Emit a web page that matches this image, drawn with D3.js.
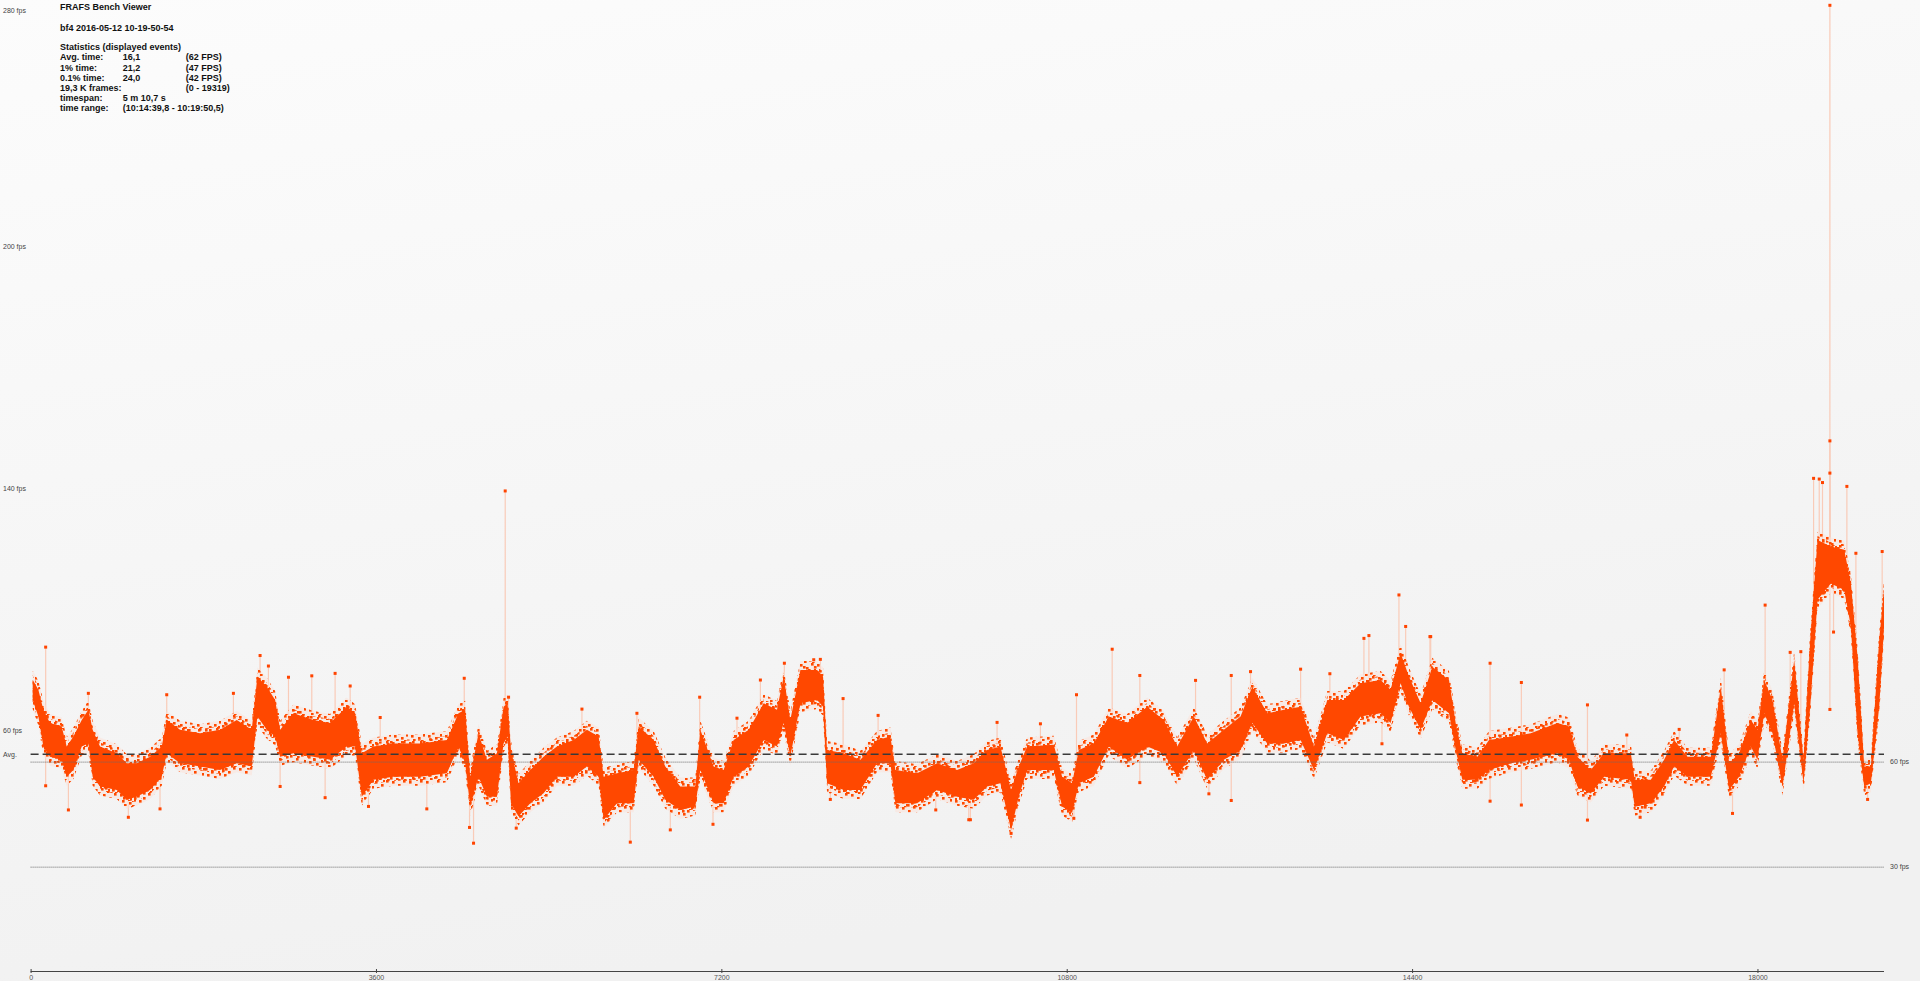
<!DOCTYPE html>
<html><head><meta charset="utf-8">
<script src="https://cdn.jsdelivr.net/npm/d3@7"></script>
<style>html,body{margin:0;padding:0;overflow:hidden;background:#f6f6f6}</style>
</head><body><svg id="c" width="1920" height="981"></svg>
<script>
// ---- data (frame index, fps) ----
const frames = [22,81,133,202,324,376,446,533,602,647,724,898,1002,1106,1245,1367,1419,1558,1766,1975,2149,2305,2364,2462,2549,2601,2740,2948,3122,3296,3383,3452,3574,3783,4061,4339,4460,4530,4582,4669,4756,4861,
4930,4972,5007,5086,5208,5347,5486,5660,5799,5921,5973,6112,6286,6338,6494,6616,6772,6929,6981,7120,7224,7328,7485,7641,7780,7850,7919,8024,8198,8260,8302,8475,8650,8823,8962,9014,9240,9449,9657,
9831,9970,10109,10220,10300,10387,10665,10752,10856,10926,11082,11239,11430,11639,11812,11951,12125,12264,12438,12612,12734,12890,13064,13238,13377,13516,13689,13863,14072,14176,14280,14367,14489,14611,
14698,14785,14855,14924,15081,15202,15428,15637,15915,16037,16123,16262,16402,16680,16721,16888,17027,17131,17271,17514,17618,17705,17809,17931,18000,18070,18157,18261,18383,18480,18550,18626,18765,18904,18974,19043,19113,19182,19269,19319];
const bandLo = [77.6,72.9,64.3,61.4,60.5,55.7,57.6,64.3,65.2,55.7,52.9,51.9,49.1,50.0,51.9,55.7,62.4,59.5,58.6,57.6,59.5,58.6,72.9,69.1,67.2,61.4,62.4,61.4,60.5,64.3,64.3,50.0,54.8,55.7,55.7,56.7,64.3,59.5,47.2,55.7,50.0,50.0,
65.2,67.2,48.1,44.3,48.1,51.0,55.7,55.7,58.6,55.7,43.4,48.1,48.1,60.5,55.7,49.1,46.2,47.2,57.6,48.1,48.1,55.7,58.6,66.2,64.3,71.0,61.4,76.7,77.6,75.7,53.8,51.9,51.9,59.5,59.5,48.1,48.1,51.9,50.0,
49.1,52.9,53.8,40.5,50.0,57.6,57.6,47.2,45.3,53.8,55.7,64.3,60.5,64.3,62.4,55.7,63.3,54.8,60.5,63.3,71.0,65.2,65.2,66.2,57.6,68.1,66.2,72.9,73.8,71.0,82.4,75.7,69.1,77.6,
75.7,73.8,63.3,54.8,54.8,57.6,59.5,60.5,62.4,60.5,52.9,50.9,55.7,54.8,47.1,48.1,52.9,58.6,55.7,55.7,68.1,51.9,55.7,64.3,60.5,73.8,68.1,52.9,76.7,53.8,75.7,106.2,110.9,109.0,98.6,68.1,52.9,53.8,75.7,98.6];
const bandHi = [83.4,80.5,74.8,71.0,70.0,64.3,67.2,71.9,74.8,69.1,64.3,62.4,59.5,59.5,61.4,64.3,71.9,69.1,68.1,69.1,71.9,69.1,84.3,81.4,77.6,69.1,73.8,71.9,71.0,75.7,73.8,62.4,64.3,65.2,65.2,66.2,73.8,74.8,55.7,68.1,60.5,62.4,
75.7,76.7,63.3,53.8,57.6,61.4,64.3,66.2,69.1,67.2,55.7,56.7,57.6,70.0,66.2,58.6,52.9,52.9,69.1,58.6,57.6,66.2,69.1,76.7,74.8,84.3,71.9,86.2,86.2,84.3,63.3,62.4,60.5,66.2,67.2,57.6,56.7,59.5,57.6,
59.5,63.3,64.3,51.9,58.6,64.3,64.8,55.7,53.8,63.3,65.2,72.9,71.0,75.7,71.9,64.3,72.9,65.2,69.1,72.9,81.4,73.8,74.8,75.7,64.3,77.6,77.6,82.4,83.3,80.5,91.0,84.3,76.7,87.1,
85.2,83.3,70.9,62.4,61.4,66.2,67.1,68.1,71.0,70.0,61.4,57.6,62.4,62.4,54.8,54.8,60.5,66.2,61.4,61.4,81.4,59.5,62.4,71.9,69.1,83.3,77.6,60.5,89.0,60.5,94.8,123.3,121.4,120.5,110.9,90.0,58.6,58.6,94.8,109.0];
const outFrames = [157,157,394,602,1019,1349,1419,2114,2392,2479,2601,2688,2931,3070,3174,3331,3522,3644,4130,4520,4617,4575,
4947,4982,5062,5747,6251,6320,6668,6974,7113,7363,7607,7857,8163,8232,8469,8336,8834,9435,9779,
9796,10074,10220,10526,10902,10874,11274,11562,11562,12143,12282,12515,12515,12716,13238,13543,13898,13950,14263,14333,14586,14086,
14594,15213,15539,15539,15213,16228,16228,16777,16638,17184,17653,17740,18080,18341,18452,18585,18644,18678,18755,18755,18755,18932,19026,18793,18755,19148,19300];
const outFps = [92.7,53.1,46.2,79.5,44.1,46.5,79.1,79.5,90.3,87.3,52.9,84.1,84.5,49.7,85.2,81.6,47.2,72.6,46.5,83.8,36.7,41.2,
137.3,78.4,41.0,75.0,37.0,73.8,40.5,78.4,42.1,72.4,83.3,88.1,89.1,89.2,78.0,49.2,73.2,46.2,43.4,
43.4,71.2,39.5,70.8,79.1,43.8,92.1,84.6,54.0,83.2,50.8,84.6,48.9,85.7,86.4,85.1,95.2,96.0,107.6,98.6,95.7,65.1,
95.7,88.1,82.6,47.6,48.7,76.2,43.3,44.1,67.6,69.2,86.2,45.2,104.7,91.2,91.4,140.9,140.7,139.7,142.4,151.6,276.0,138.6,119.5,97.0,74.9,49.2,120.0];

const xTicks = [0,3600,7200,10800,14400,18000];
const yTickValues = [276,207,138,69];
const yTickLabels = ["280 fps","200 fps","140 fps","60 fps"];
const refLines = [60,30];
const refLabels = ["60 fps","30 fps"];
const avgFps = 62.1;
const titleLines = ["FRAFS Bench Viewer","bf4 2016-05-12 10-19-50-54","Statistics (displayed events)"];
const statLabels = ["Avg. time:","1% time:","0.1% time:","19,3 K frames:","timespan:","time range:"];
const statValues = ["16,1","21,2","24,0","","5 m 10,7 s","(10:14:39,8 - 10:19:50,5)"];
const statExtra = ["(62 FPS)","(47 FPS)","(42 FPS)","(0 - 19319)","",""];

// ---- drawing ----
const svg = d3.select("#c");
const W = 1920, H = 981;
const x = d3.scaleLinear().domain([0,19319]).range([30.6,1884]);
const y = d3.scaleLinear().domain([0,276]).range([971.7,5.3]);

const defs = svg.append("defs");
const g = defs.append("linearGradient").attr("id","bg").attr("x1","0").attr("y1","0").attr("x2","0.3").attr("y2","1");
g.append("stop").attr("offset","0").attr("stop-color","#fcfcfc");
g.append("stop").attr("offset","1").attr("stop-color","#f1f1f1");
svg.append("rect").attr("width",W).attr("height",H).attr("fill","url(#bg)");

// dotted texture for the sparse fringe of the point cloud
const pat = defs.append("pattern").attr("id","fringe").attr("patternUnits","userSpaceOnUse")
  .attr("width",17).attr("height",13);
[[1,1],[7,4],[12,0],[3,7],[10,9],[15,6],[5,11],[13,12]].forEach(p=>
  pat.append("rect").attr("x",p[0]).attr("y",p[1]).attr("width",2.6).attr("height",2.6).attr("fill","#ff4a00"));
const pat2 = defs.append("pattern").attr("id","fringe2").attr("patternUnits","userSpaceOnUse")
  .attr("width",11).attr("height",9);
[[0,0],[5,3],[9,6],[2,5],[7,8]].forEach(p=>
  pat2.append("rect").attr("x",p[0]).attr("y",p[1]).attr("width",2.6).attr("height",2.6).attr("fill","#ff4a00"));

function bandMid(f){
  const i = Math.max(1, Math.min(frames.length-1, d3.bisectLeft(frames, f)));
  const t = (f - frames[i-1])/(frames[i]-frames[i-1]);
  const a = (bandLo[i-1]+bandHi[i-1])/2, b = (bandLo[i]+bandHi[i])/2;
  return a + (b-a)*Math.max(0,Math.min(1,t));
}
const idx = d3.range(frames.length);

// pale connecting lines for outliers
svg.append("g").selectAll("line").data(outFrames.map((f,i)=>i)).join("line")
  .attr("x1",i=>x(outFrames[i])).attr("x2",i=>x(outFrames[i]))
  .attr("y1",i=>y(outFps[i])).attr("y2",i=>y(bandMid(outFrames[i])))
  .attr("stroke","#f9cbb8").attr("stroke-width",1.2);

// sparse fringe (outer) and denser fringe (inner), then the dense core
const fringeOuter = d3.area().x(i=>x(frames[i])).y0(i=>y(bandLo[i])+9).y1(i=>y(bandHi[i])-9);
const fringeInner = d3.area().x(i=>x(frames[i])).y0(i=>y(bandLo[i])+4).y1(i=>y(bandHi[i])-4);
svg.append("path").datum(idx).attr("d",fringeOuter).attr("fill","#fbe2d8").attr("opacity",0.55);
svg.append("path").datum(idx).attr("d",fringeOuter).attr("fill","url(#fringe)");
svg.append("path").datum(idx).attr("d",fringeInner).attr("fill","url(#fringe2)");
const area = d3.area().x(i=>x(frames[i])).y0(i=>y(bandLo[i])).y1(i=>y(bandHi[i]));
svg.append("path").datum(idx).attr("d",area).attr("fill","#ff4800");

// outlier markers
svg.append("g").selectAll("rect").data(outFrames.map((f,i)=>i)).join("rect")
  .attr("x",i=>x(outFrames[i])-1.5).attr("y",i=>y(outFps[i])-1.5)
  .attr("width",3).attr("height",3).attr("fill","#ff4400");

// reference lines
svg.append("line").attr("x1",x(0)).attr("x2",x(19319)).attr("y1",y(avgFps)).attr("y2",y(avgFps))
  .attr("stroke","#3a3a3a").attr("stroke-width",1.4).attr("stroke-dasharray","8,4");
svg.append("g").selectAll("line").data(refLines).join("line")
  .attr("x1",x(0)).attr("x2",x(19319)).attr("y1",d=>y(d)+0.5).attr("y2",d=>y(d)+0.5)
  .attr("stroke","#6a6a6a").attr("stroke-width",1).attr("stroke-dasharray","1,1");

const small = "'Liberation Sans', Arial, sans-serif";
svg.append("g").selectAll("text").data(refLines).join("text")
  .attr("x",1890).attr("y",d=>y(d)).attr("dy","0.35em")
  .attr("font-family",small).attr("font-size",7).attr("fill","#444")
  .text((d,i)=>refLabels[i]);
svg.append("text").attr("x",3).attr("y",y(avgFps)).attr("dy","0.35em")
  .attr("font-family",small).attr("font-size",7).attr("fill","#444").text("Avg.");

// y tick labels
svg.append("g").selectAll("text").data(yTickValues).join("text")
  .attr("x",3).attr("y",d=>Math.max(11, y(d))).attr("dy","0.35em")
  .attr("font-family",small).attr("font-size",7).attr("fill","#444")
  .text((d,i)=>yTickLabels[i]);

// x axis
const xAxis = d3.axisBottom(x).tickValues(xTicks).tickSize(3).tickPadding(1).tickFormat(d3.format("d"));
const ax = svg.append("g").attr("transform","translate(0,971)").call(xAxis);
ax.select(".domain").attr("stroke","#444").attr("d","M30.6,0.5H1884");
ax.selectAll(".tick line").attr("stroke","#444").attr("y1",-2).attr("y2",2);
ax.selectAll(".tick text").attr("font-family",small).attr("font-size",7).attr("fill","#555");

// stats block
const big = "'Liberation Sans', Arial, sans-serif";
const tb = svg.append("g").attr("font-family",big).attr("font-size",9).attr("font-weight","bold").attr("fill","#111");
const titleY = [7.3,28.3,46.7];
titleLines.forEach((t,i)=>tb.append("text").attr("x",60).attr("y",titleY[i]).attr("dy","0.35em").text(t));
const rowY = [57.3,67.6,77.6,87.6,98.0,108.3];
statLabels.forEach((t,i)=>{
  tb.append("text").attr("x",60).attr("y",rowY[i]).attr("dy","0.35em").text(t);
  if(statValues[i]) tb.append("text").attr("x",122.7).attr("y",rowY[i]).attr("dy","0.35em").text(statValues[i]);
  if(statExtra[i]) tb.append("text").attr("x",185.7).attr("y",rowY[i]).attr("dy","0.35em").text(statExtra[i]);
});
</script></body></html>
